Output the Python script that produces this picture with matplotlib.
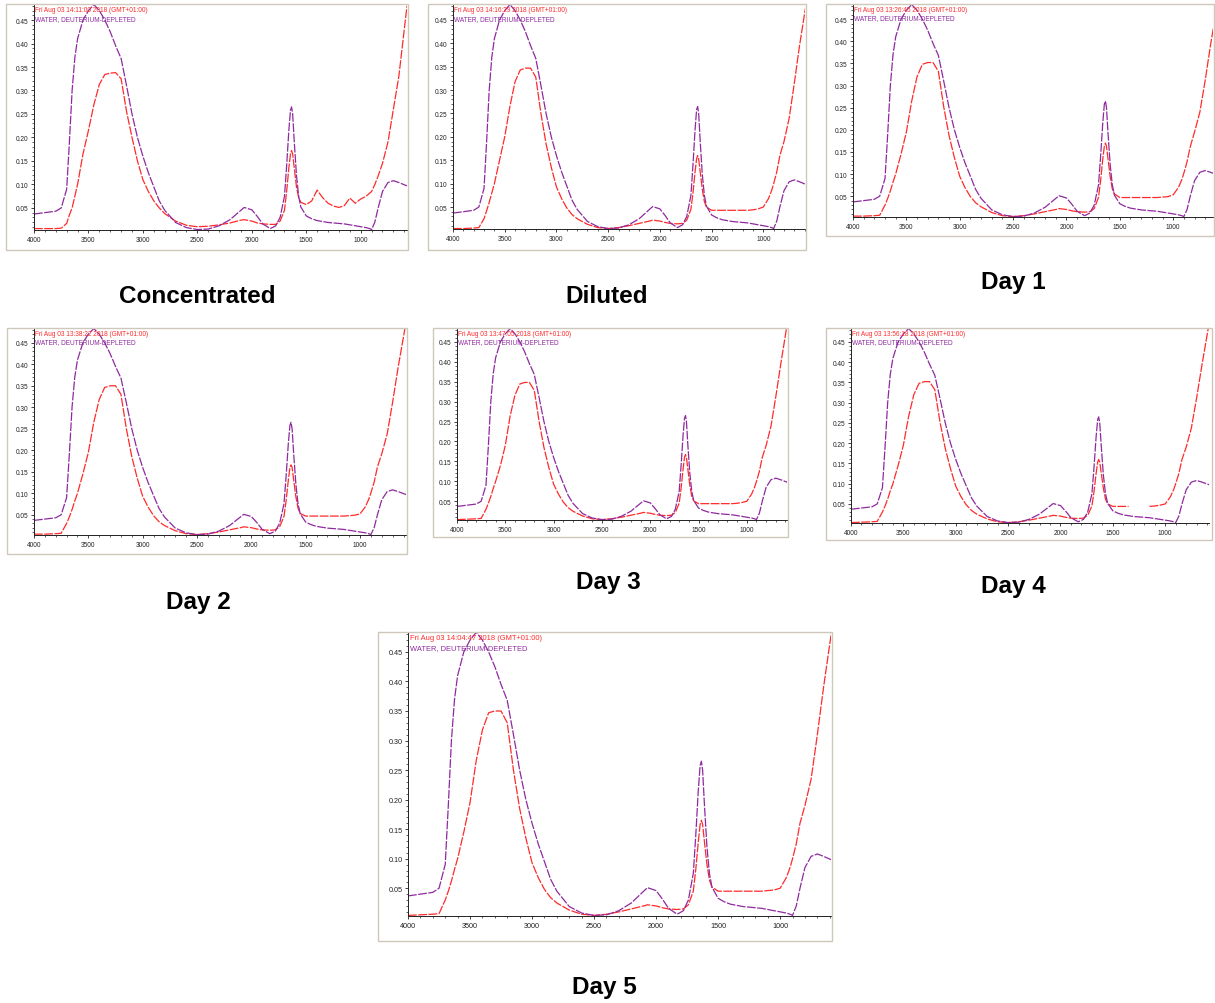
import matplotlib
matplotlib.use('Agg')
import matplotlib.pyplot as plt
from matplotlib.patches import Rectangle
from matplotlib.ticker import MultipleLocator
import numpy as np

W, H = 1215, 1004

# wavenumber grid (cm-1) shared by every spectrum
wavenumber = [4000, 3900, 3800, 3750, 3700, 3675, 3650, 3625, 3600, 3550,
              3500, 3450, 3400, 3350, 3300, 3250, 3200, 3150, 3100, 3050,
              3000, 2950, 2900, 2850, 2800, 2700, 2600, 2500, 2400, 2300,
              2200, 2100, 2070, 2000, 1950, 1900, 1830, 1780, 1740, 1700,
              1680, 1660, 1645, 1635, 1625, 1610, 1590, 1570, 1550, 1500,
              1450, 1400, 1350, 1300, 1250, 1200, 1150, 1100, 1050, 1000,
              950, 920, 900, 870, 840, 800, 750, 700, 650, 575]

# reference spectrum: water, deuterium-depleted (purple)
water_ddw = [0.037, 0.040, 0.043, 0.050, 0.090, 0.190, 0.300, 0.370, 0.410, 0.450,
             0.470, 0.483, 0.470, 0.450, 0.425, 0.395, 0.368, 0.310, 0.250, 0.200,
             0.160, 0.125, 0.095, 0.065, 0.045, 0.019, 0.008, 0.004, 0.005, 0.012,
             0.025, 0.045, 0.051, 0.046, 0.032, 0.016, 0.006, 0.012, 0.030, 0.075,
             0.140, 0.215, 0.258, 0.265, 0.250, 0.190, 0.120, 0.075, 0.052, 0.033,
             0.027, 0.023, 0.021, 0.019, 0.018, 0.017, 0.016, 0.014, 0.012, 0.010,
             0.008, 0.006, 0.004, 0.020, 0.050, 0.085, 0.104, 0.108, 0.104, 0.097]

# sample spectra (red)
red_conc = [0.006, 0.006, 0.006, 0.007, 0.017, 0.035, 0.050, 0.075, 0.100, 0.165,
            0.215, 0.270, 0.313, 0.334, 0.337, 0.338, 0.325, 0.255, 0.200, 0.150,
            0.110, 0.085, 0.065, 0.050, 0.038, 0.022, 0.013, 0.010, 0.011, 0.014,
            0.018, 0.024, 0.025, 0.022, 0.018, 0.016, 0.015, 0.015, 0.022, 0.045,
            0.085, 0.135, 0.165, 0.172, 0.165, 0.135, 0.095, 0.072, 0.062, 0.057,
            0.065, 0.088, 0.072, 0.060, 0.054, 0.051, 0.055, 0.071, 0.060, 0.069,
            0.075, 0.081, 0.085, 0.100, 0.118, 0.145, 0.190, 0.260, 0.330, 0.480]
red_diluted = [0.004, 0.004, 0.005, 0.006, 0.025, 0.042, 0.060, 0.080, 0.100, 0.150,
               0.200, 0.265, 0.318, 0.343, 0.347, 0.347, 0.328, 0.250, 0.185, 0.135,
               0.093, 0.068, 0.048, 0.034, 0.025, 0.013, 0.006, 0.004, 0.006, 0.010,
               0.015, 0.020, 0.022, 0.020, 0.017, 0.015, 0.014, 0.015, 0.022, 0.045,
               0.080, 0.125, 0.153, 0.160, 0.153, 0.125, 0.088, 0.062, 0.050, 0.043,
               0.043, 0.043, 0.043, 0.043, 0.043, 0.043, 0.043, 0.044, 0.046, 0.050,
               0.068, 0.085, 0.100, 0.125, 0.160, 0.190, 0.240, 0.315, 0.395, 0.500]
red_day1 = [0.005, 0.005, 0.006, 0.007, 0.030, 0.045, 0.062, 0.082, 0.100, 0.145,
            0.195, 0.265, 0.320, 0.348, 0.352, 0.352, 0.332, 0.252, 0.187, 0.137,
            0.095, 0.069, 0.049, 0.035, 0.026, 0.013, 0.006, 0.004, 0.006, 0.010,
            0.015, 0.020, 0.022, 0.020, 0.017, 0.015, 0.014, 0.015, 0.022, 0.047,
            0.085, 0.133, 0.163, 0.170, 0.163, 0.133, 0.093, 0.066, 0.055, 0.047,
            0.047, 0.047, 0.047, 0.047, 0.047, 0.047, 0.047, 0.048, 0.049, 0.053,
            0.070, 0.087, 0.102, 0.128, 0.162, 0.195, 0.240, 0.312, 0.392, 0.500]
red_day2 = [0.005, 0.005, 0.006, 0.007, 0.030, 0.045, 0.062, 0.082, 0.100, 0.145,
            0.195, 0.265, 0.318, 0.346, 0.350, 0.350, 0.330, 0.250, 0.185, 0.135,
            0.093, 0.068, 0.048, 0.034, 0.025, 0.013, 0.006, 0.004, 0.006, 0.010,
            0.015, 0.020, 0.022, 0.020, 0.017, 0.015, 0.014, 0.015, 0.022, 0.046,
            0.083, 0.130, 0.160, 0.166, 0.160, 0.130, 0.091, 0.065, 0.053, 0.047,
            0.047, 0.047, 0.047, 0.047, 0.047, 0.047, 0.047, 0.048, 0.049, 0.052,
            0.069, 0.086, 0.101, 0.126, 0.161, 0.192, 0.238, 0.312, 0.392, 0.500]
red_day3 = [0.004, 0.005, 0.006, 0.007, 0.030, 0.045, 0.062, 0.082, 0.100, 0.140,
            0.190, 0.264, 0.316, 0.344, 0.348, 0.348, 0.328, 0.250, 0.185, 0.135,
            0.093, 0.068, 0.048, 0.034, 0.025, 0.013, 0.006, 0.004, 0.006, 0.010,
            0.015, 0.020, 0.022, 0.020, 0.017, 0.015, 0.014, 0.015, 0.022, 0.045,
            0.083, 0.130, 0.160, 0.167, 0.160, 0.130, 0.090, 0.063, 0.051, 0.044,
            0.044, 0.044, 0.044, 0.044, 0.044, 0.044, 0.044, 0.045, 0.047, 0.050,
            0.068, 0.085, 0.100, 0.125, 0.160, 0.190, 0.238, 0.312, 0.392, 0.505]
red_day4 = [0.004, 0.005, 0.006, 0.007, 0.030, 0.045, 0.062, 0.082, 0.100, 0.145,
            0.195, 0.266, 0.320, 0.348, 0.352, 0.352, 0.332, 0.252, 0.187, 0.137,
            0.094, 0.068, 0.048, 0.034, 0.025, 0.013, 0.006, 0.004, 0.006, 0.010,
            0.015, 0.020, 0.022, 0.020, 0.017, 0.015, 0.014, 0.015, 0.022, 0.045,
            0.080, 0.125, 0.153, 0.160, 0.153, 0.125, 0.088, 0.062, 0.050, 0.044,
            0.044, 0.044, 0.044, np.nan, np.nan, np.nan, 0.044, 0.045, 0.047, 0.050,
            0.068, 0.085, 0.100, 0.125, 0.160, 0.190, 0.238, 0.312, 0.392, 0.505]
red_day5 = [0.004, 0.005, 0.006, 0.007, 0.030, 0.045, 0.062, 0.082, 0.100, 0.145,
            0.195, 0.266, 0.318, 0.347, 0.350, 0.350, 0.330, 0.250, 0.185, 0.135,
            0.093, 0.068, 0.048, 0.034, 0.025, 0.013, 0.006, 0.004, 0.006, 0.010,
            0.015, 0.020, 0.022, 0.020, 0.017, 0.015, 0.014, 0.015, 0.022, 0.045,
            0.082, 0.128, 0.158, 0.165, 0.158, 0.128, 0.090, 0.064, 0.052, 0.045,
            0.045, 0.045, 0.045, 0.045, 0.045, 0.045, 0.045, 0.046, 0.047, 0.050,
            0.068, 0.085, 0.100, 0.125, 0.160, 0.190, 0.235, 0.310, 0.390, 0.500]

samples = [red_conc, red_diluted, red_day1, red_day2, red_day3, red_day4, red_day5]
names = ['Concentrated', 'Diluted', 'Day 1', 'Day 2', 'Day 3', 'Day 4', 'Day 5']
stamps = ['Fri Aug 03 14:11:00 2018 (GMT+01:00)',
          'Fri Aug 03 14:16:29 2018 (GMT+01:00)',
          'Fri Aug 03 13:26:45 2018 (GMT+01:00)',
          'Fri Aug 03 13:38:22 2018 (GMT+01:00)',
          'Fri Aug 03 13:47:05 2018 (GMT+01:00)',
          'Fri Aug 03 13:56:18 2018 (GMT+01:00)',
          'Fri Aug 03 14:04:47 2018 (GMT+01:00)']
ref_name = 'WATER, DEUTERIUM-DEPLETED'
x_ticks = [4000, 3500, 3000, 2500, 2000, 1500, 1000]
y_ticks = [0.05, 0.10, 0.15, 0.20, 0.25, 0.30, 0.35, 0.40, 0.45]

# layout in pixels (x0, y0, x1, y1) measured from top-left
frames = [(6, 5, 408, 251), (428, 5, 806, 251), (826, 5, 1214, 237),
          (7, 329, 407, 555), (433, 329, 788, 538), (826, 329, 1212, 541),
          (378, 633, 832, 942)]
axes_px = [(34, 6, 407, 231), (453, 6, 805, 230), (853, 6, 1213, 218),
           (34, 330, 406, 536), (457, 330, 787, 521), (851, 330, 1209, 524),
           (408, 634, 831, 917)]
x_right = [575, 597, 627, 577, 584, 582, 590]
title_pos = [(197, 297), (607, 297), (1013, 283), (198, 603),
             (608, 583), (1013, 587), (604, 988)]

RED = '#ff2a2a'
PURPLE = '#8e2a9e'
FONT = 'Liberation Sans'


def fig_rect(x0, y0, x1, y1):
    return [x0 / W, 1 - y1 / H, (x1 - x0) / W, (y1 - y0) / H]


def main():
    fig = plt.figure(figsize=(W / 100, H / 100), dpi=100)
    fig.patch.set_facecolor('white')

    for i in range(len(names)):
        big = i == 6
        fx = fig_rect(*frames[i])
        fig.add_artist(Rectangle((fx[0], fx[1]), fx[2], fx[3], transform=fig.transFigure,
                                 fill=False, ec='#cdc8bb', lw=1.0))

        ax = fig.add_axes(fig_rect(*axes_px[i]))
        ax.plot(wavenumber, samples[i], color=RED, lw=0.9, ls=(0, (7, 1.2)))
        ax.plot(wavenumber, water_ddw, color=PURPLE, lw=0.9, ls=(0, (7, 1.2)))
        ax.set_xlim(4000, x_right[i])
        ax.set_ylim(0.003, 0.482)

        tick_fs = 5.2 if big else 4.7
        ax.set_xticks(x_ticks)
        ax.set_xticklabels([str(t) for t in x_ticks], fontsize=tick_fs, family=FONT)
        ax.set_yticks(y_ticks)
        ax.set_yticklabels(['%.2f' % t for t in y_ticks], fontsize=tick_fs, family=FONT)
        ax.xaxis.set_minor_locator(MultipleLocator(100))
        ax.yaxis.set_minor_locator(MultipleLocator(0.01))
        ax.tick_params(which='major', length=2.5, width=0.6, pad=1.5, colors='#222222')
        ax.tick_params(which='minor', length=1.2, width=0.5, colors='#222222')
        for side in ['top', 'right']:
            ax.spines[side].set_visible(False)
        for side in ['left', 'bottom']:
            ax.spines[side].set_linewidth(0.7)
            ax.spines[side].set_color('#222222')

        head_fs = 5.4 if big else 4.7
        ax.text(0.004, 0.995, stamps[i], transform=ax.transAxes, color=RED,
                fontsize=head_fs, family=FONT, va='top', ha='left')
        ax.text(0.004, 0.995 - (0.034 if big else 0.04), ref_name, transform=ax.transAxes,
                color=PURPLE, fontsize=head_fs, family=FONT, va='top', ha='left')

        tx, ty = title_pos[i]
        fig.text(tx / W, 1 - ty / H, names[i], ha='center', va='center',
                 fontsize=17.5, fontweight='bold', family=FONT)

    fig.savefig('out.png', dpi=100)


if __name__ == '__main__':
    main()
